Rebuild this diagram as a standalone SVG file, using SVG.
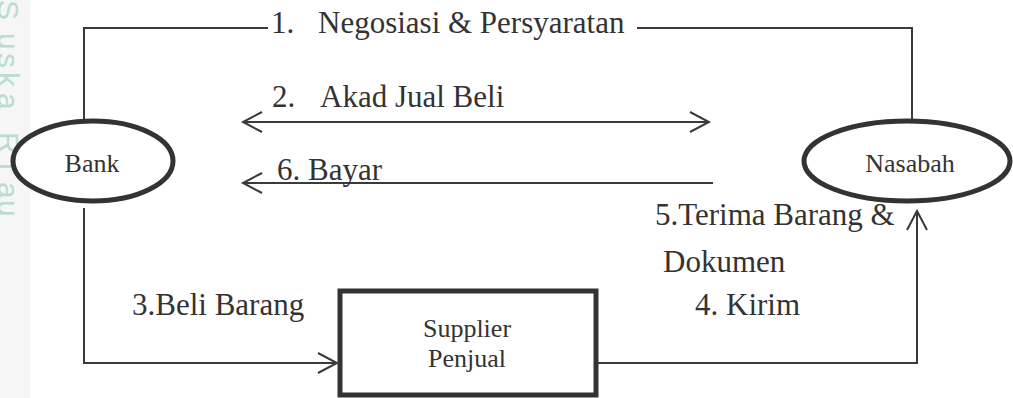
<svg xmlns="http://www.w3.org/2000/svg" width="1013" height="398" viewBox="0 0 1013 398">
  <style>
    .lbl { font-family: "Liberation Serif", "Times New Roman", serif; font-size: 31px; fill: #333333; }
    .node-txt { font-family: "Liberation Serif", "Times New Roman", serif; font-size: 26px; fill: #333333; text-anchor: middle; }
    .node-shape { fill: #ffffff; stroke: #333333; stroke-width: 5; }
    .conn { fill: none; stroke: #3a3a3a; stroke-width: 2; }
    .edge-mark { font-family: "Liberation Sans", Arial, sans-serif; font-size: 30px; fill: #bcdcd0; }
  </style>
  <defs>
    <marker id="open-arrow" markerUnits="userSpaceOnUse" markerWidth="24" markerHeight="24" viewBox="-20 -12 24 24" refX="0" refY="0" orient="auto-start-reverse">
      <path d="M-19,-10 L0,0 L-19,10" fill="none" stroke="#3a3a3a" stroke-width="2"/>
    </marker>
  </defs>

  <rect x="0" y="0" width="1013" height="398" fill="#ffffff"/>
  <!-- side strip with vertical caption, glyphs placed one by one along the edge -->
  <rect x="0" y="0" width="30" height="398" fill="#f5f6f5"/>
  <text class="edge-mark" transform="translate(-2,0) rotate(90)" x="0 33 53 72 93 118 132 163 182 200" y="0">Suska Riau</text>

  <!-- connectors -->
  <g id="connectors">
    <!-- 1. negotiation: Bank up, across, down to Nasabah -->
    <polyline class="conn" points="84,120 84,28 268,28"/>
    <polyline class="conn" points="637,28 912,28 912,120"/>
    <!-- 2. sale contract, both directions -->
    <line class="conn" x1="243" y1="122" x2="709" y2="122" marker-start="url(#open-arrow)" marker-end="url(#open-arrow)"/>
    <!-- 6. payment back to Bank -->
    <line class="conn" x1="713" y1="183" x2="243" y2="183" marker-end="url(#open-arrow)"/>
    <!-- 3. Bank buys goods from supplier -->
    <polyline class="conn" points="84,208 84,363 337,363" marker-end="url(#open-arrow)"/>
    <!-- 4/5. supplier delivers to Nasabah -->
    <polyline class="conn" points="598,363 917,363 917,211" marker-end="url(#open-arrow)"/>
  </g>

  <!-- connector labels -->
  <g id="labels">
    <text class="lbl" y="33"><tspan x="271">1.</tspan><tspan x="318">Negosiasi &amp; Persyaratan</tspan></text>
    <text class="lbl" y="107"><tspan x="272">2.</tspan><tspan x="320">Akad Jual Beli</tspan></text>
    <text class="lbl" x="277" y="180">6. Bayar</text>
    <text class="lbl" x="132" y="315">3.Beli Barang</text>
    <text class="lbl" x="655" y="225">5.Terima Barang &amp;</text>
    <text class="lbl" x="663" y="272">Dokumen</text>
    <text class="lbl" x="695" y="315">4. Kirim</text>
  </g>

  <g id="bank">
    <ellipse class="node-shape" cx="93" cy="161" rx="80" ry="40"/>
    <text class="node-txt" x="92" y="172">Bank</text>
  </g>

  <g id="nasabah">
    <ellipse class="node-shape" cx="907" cy="161" rx="103" ry="40"/>
    <text class="node-txt" x="910" y="172">Nasabah</text>
  </g>

  <g id="supplier">
    <rect class="node-shape" x="340" y="291" width="256" height="104"/>
    <text class="node-txt" x="467" y="337">Supplier</text>
    <text class="node-txt" x="467" y="367">Penjual</text>
  </g>
</svg>
